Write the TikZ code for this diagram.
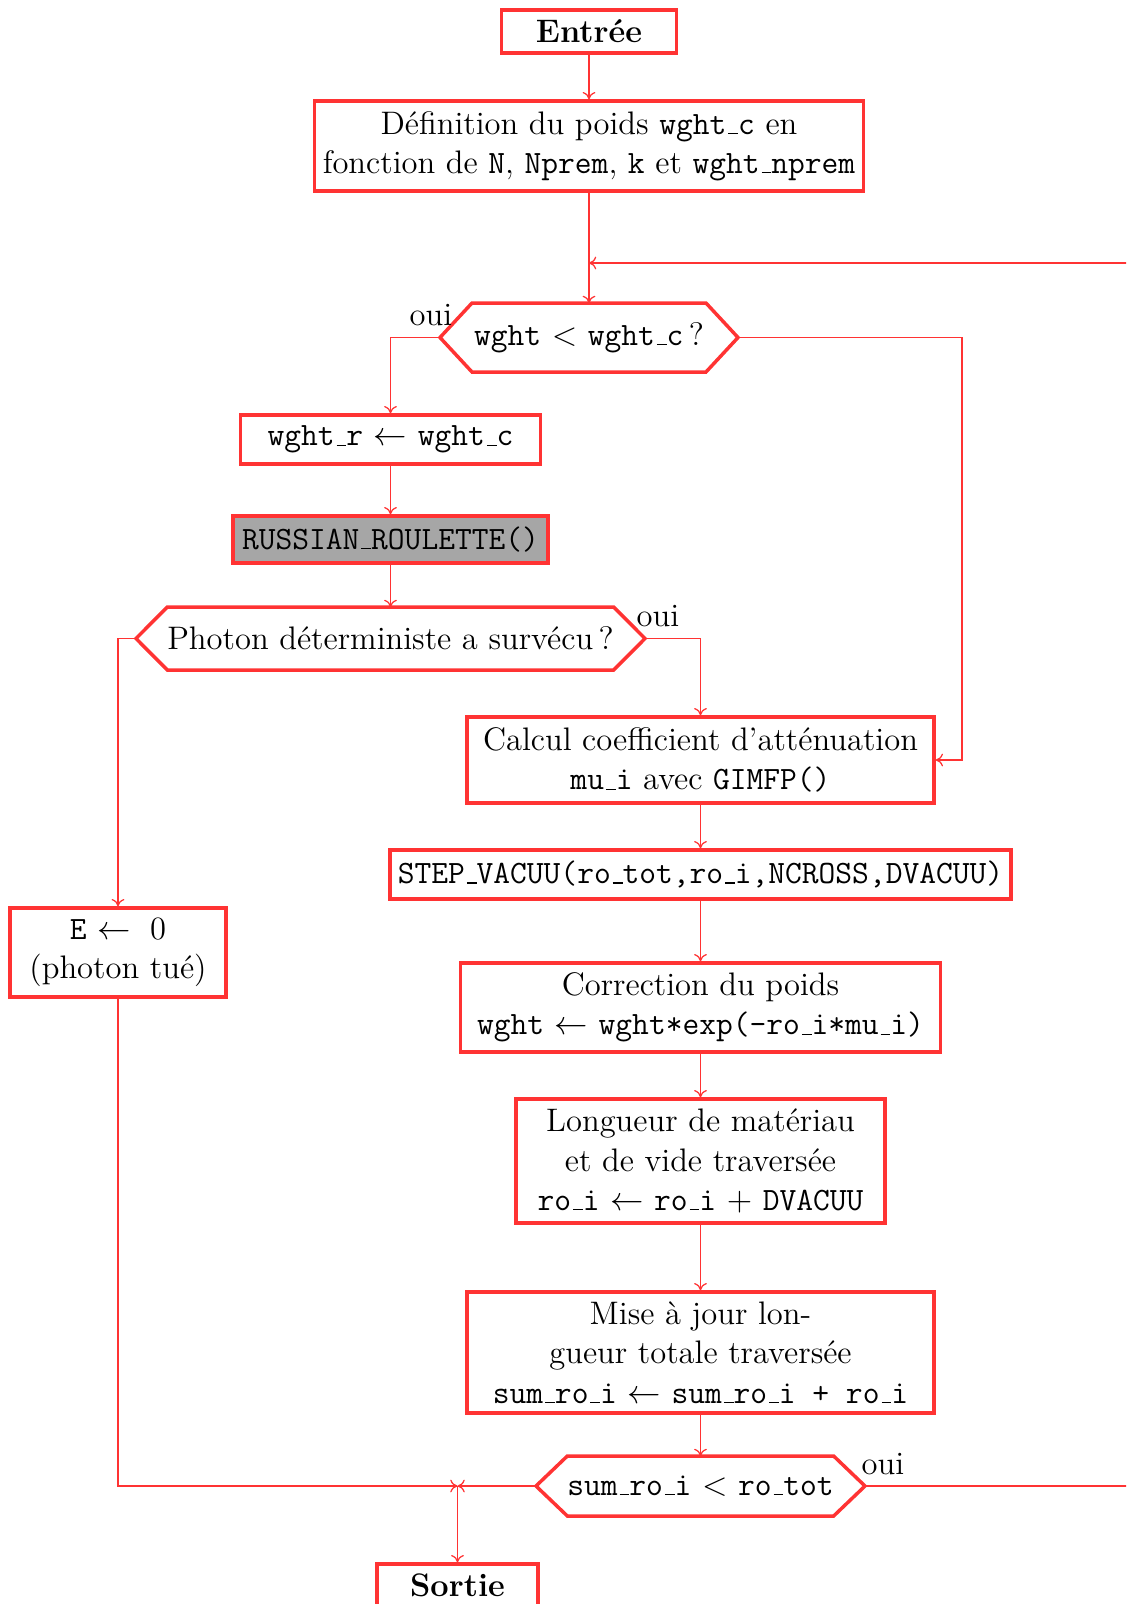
\documentclass[tikz,border=0pt]{standalone}
\usetikzlibrary{arrows.meta,calc}
\definecolor{fc}{RGB}{255,51,51}
\def\PX{0.35932pt}
\def\_{\leavevmode\kern.06em\vbox{\hrule width.3em}}
\begin{document}
\begin{tikzpicture}[x=\PX, y=-\PX,
  font=\fontsize{11.7}{14.15}\selectfont,
  wh/.style 2 args={minimum width={#1*\PX}, minimum height={#2*\PX}},
  box/.style={draw=fc, line width=1.25pt, align=center, inner sep=0pt},
  hexnode/.style={inner sep=0pt, outer sep=0pt, align=center},
  hexline/.style={draw=fc, line width=1.25pt, line join=miter},
  conn/.style={draw=fc, line width=0.45pt},
  arr/.style={conn, -{To[length=2.6pt,width=4.6pt]}},
  lbl/.style={inner sep=0pt},
]
\clip (0,0) rectangle (1126,1604);

% nodes
\node[box, wh={175}{43}, font=\fontsize{11.7}{14.15}\selectfont\bfseries] (entree) at (589,31.5) {Entrée};
\node[box, wh={549}{90}] (def) at (589,146) {Définition du poids \texttt{wght\_c} en\\fonction de \texttt{N}, \texttt{Nprem}, \texttt{k} et \texttt{wght\_nprem}};
\coordinate (loopj) at (589,263);

\node[hexnode, wh={234}{69}] (h1) at (589,337.5) {\texttt{wght} $<$ \texttt{wght\_c}\,?};
\coordinate (h1L) at (440,337.5);
\coordinate (h1R) at (738,337.5);
\draw[hexline] (h1.north west) -- (h1.north east) -- (h1R) -- (h1.south east) -- (h1.south west) -- (h1L) -- cycle;

\node[box, wh={300}{49}] (wghtr) at (390.5,439.5) {\texttt{wght\_r} $\leftarrow$ \texttt{wght\_c}};
\node[box, wh={315}{47}, fill=black!35] (russian) at (390.5,539.5) {\texttt{RUSSIAN\_ROULETTE()}};

\node[hexnode, wh={445}{63}] (h2) at (390.5,638.5) {Photon déterministe a survécu\,?};
\coordinate (h2L) at (136,638.5);
\coordinate (h2R) at (645,638.5);
\draw[hexline] (h2.north west) -- (h2.north east) -- (h2R) -- (h2.south east) -- (h2.south west) -- (h2L) -- cycle;

\node[box, wh={467}{86}] (calcul) at (700.5,760) {Calcul coefficient d’atténuation\\\texttt{mu\_i} avec \texttt{GIMFP()}};
\node[box, wh={621}{49}] (step) at (700.5,874.5) {\texttt{STEP\_VACUU(ro\_tot,ro\_i,NCROSS,DVACUU)}};
\node[box, wh={480}{89}] (corr) at (700.5,1007.5) {Correction du poids\\\texttt{wght} $\leftarrow$ \texttt{wght*exp(-ro\_i*mu\_i)}};
\node[box, wh={369}{124}] (long) at (700.5,1161) {Longueur de matériau\\et de vide traversée\\\texttt{ro\_i} $\leftarrow$ \texttt{ro\_i} $+$ \texttt{DVACUU}};
\node[box, wh={467}{121}] (mise) at (700.5,1352.5) {Mise à jour lon-\\gueur totale traversée\\\texttt{sum\_ro\_i} $\leftarrow$ \texttt{sum\_ro\_i + ro\_i}};

\node[hexnode, wh={265}{60}] (h3) at (700.5,1486) {\texttt{sum\_ro\_i} $<$ \texttt{ro\_tot}};
\coordinate (h3L) at (536,1486);
\coordinate (h3R) at (865,1486);
\draw[hexline] (h3.north west) -- (h3.north east) -- (h3R) -- (h3.south east) -- (h3.south west) -- (h3L) -- cycle;

\node[box, wh={216}{89}] (E) at (118,952.5) {\texttt{E} $\leftarrow$\hspace{0.6em}0\\(photon tué)};
\node[box, wh={161}{43}, font=\fontsize{11.7}{14.15}\selectfont\bfseries] (sortie) at (457.5,1585.5) {Sortie};
\coordinate (join) at (457.5,1486);

% labels
\node[lbl] (oui1) at (431,315) {oui};
\node[lbl] (oui2) at (658,616) {oui};
\node[lbl] (oui3) at (883,1464.5) {oui};

% connectors
\draw[arr] (entree.south) -- (def.north);
\draw[arr] (def.south) -- (h1.north);
\draw[arr] (h3R) -- (1160,1486) -- (1160,263) -- (loopj);
\draw[arr] (h1L) -| (wghtr.north);
\coordinate (c1) at (962,760);
\draw[arr] (h1R) -| (c1) -- (calcul.east);
\draw[arr] (wghtr.south) -- (russian.north);
\draw[arr] (russian.south) -- (h2.north);
\draw[arr] (h2L) -| (E.north);
\draw[arr] (h2R) -| (calcul.north);
\draw[arr] (calcul.south) -- (step.north);
\draw[arr] (step.south) -- (corr.north);
\draw[arr] (corr.south) -- (long.north);
\draw[arr] (long.south) -- (mise.north);
\draw[arr] (mise.south) -- (h3.north);
\draw[arr] (E.south) |- (join);
\draw[arr] (h3L) -- (join);
\draw[arr] (join) -- (sortie.north);
\end{tikzpicture}
\end{document}
